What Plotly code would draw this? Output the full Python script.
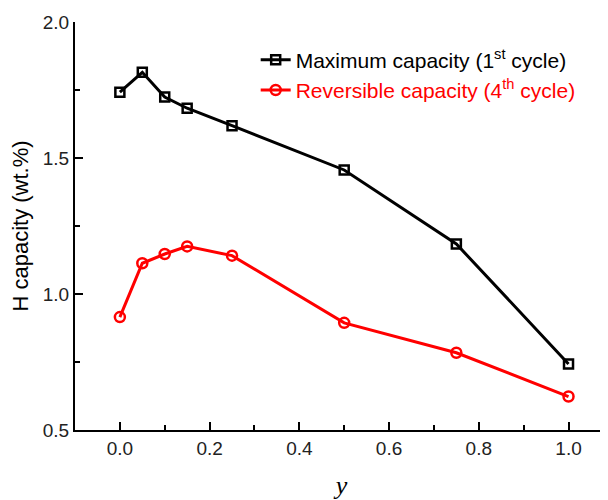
import plotly.graph_objects as go

# composition y
y_comp = [0.0, 0.05, 0.1, 0.15, 0.25, 0.5, 0.75, 1.0]
# H capacity (wt.%)
max_capacity = [1.742, 1.815, 1.724, 1.683, 1.619, 1.456, 1.184, 0.743]
rev_capacity = [0.915, 1.113, 1.147, 1.175, 1.141, 0.894, 0.784, 0.623]

fig = go.Figure()
fig.add_trace(go.Scatter(
    x=y_comp, y=max_capacity, mode='lines+markers',
    name='Maximum capacity (1<sup>st</sup> cycle)',
    line=dict(color='black', width=3),
    marker=dict(symbol='square-open', size=9, color='black', line=dict(width=2.5))
))
fig.add_trace(go.Scatter(
    x=y_comp, y=rev_capacity, mode='lines+markers',
    name='<span style="color:red">Reversible capacity (4<sup>th</sup> cycle)</span>',
    line=dict(color='red', width=3),
    marker=dict(symbol='circle-open', size=10, color='red', line=dict(width=2.5))
))

# page body has an 8px margin, so the figure is a bit smaller than the window
axis_font = dict(family='Liberation Sans, Arial', size=19, color='#222')
fig.update_layout(
    width=600, height=492,
    margin=dict(l=67, r=0, t=14, b=70),
    plot_bgcolor='white', paper_bgcolor='white',
    font=dict(family='Liberation Sans, Arial', color='black'),
    legend=dict(x=0.339, y=0.957, xanchor='left', yanchor='top',
                font=dict(size=21), bgcolor='rgba(0,0,0,0)',
                tracegroupgap=0),
    xaxis=dict(range=[-0.1, 1.088], tickvals=[0, 0.2, 0.4, 0.6, 0.8, 1.0],
               ticktext=['0.0', '0.2', '0.4', '0.6', '0.8', '1.0'],
               ticks='inside', ticklen=8, tickwidth=1.5, tickcolor='black',
               minor=dict(tickvals=[0.1, 0.3, 0.5, 0.7, 0.9], ticks='inside',
                          ticklen=5, tickwidth=1.5, tickcolor='black'),
               showline=True, linecolor='black', linewidth=2, showgrid=False,
               zeroline=False, tickfont=axis_font,
               title=dict(text='y', font=dict(family='Liberation Serif, Times New Roman',
                                               size=26, style='italic'), standoff=20)),
    yaxis=dict(range=[0.5, 2.0], tickvals=[0.5, 1.0, 1.5, 2.0],
               ticktext=['0.5', '1.0', '1.5', '2.0'],
               ticks='inside', ticklen=8, tickwidth=1.5, tickcolor='black',
               minor=dict(tickvals=[0.75, 1.25, 1.75], ticks='inside',
                          ticklen=5, tickwidth=1.5, tickcolor='black'),
               showline=True, linecolor='black', linewidth=2, showgrid=False,
               zeroline=False, tickfont=axis_font,
               title=dict(text='H capacity (wt.%)', font=dict(size=22), standoff=8)),
)
fig.write_html("out.html")
